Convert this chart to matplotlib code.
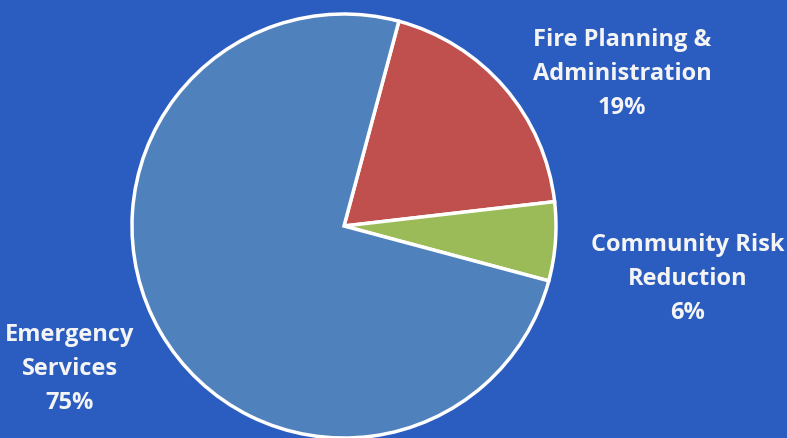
import matplotlib.pyplot as plt

# Budget split by program area
labels = ["Fire Planning &\nAdministration", "Community Risk\nReduction", "Emergency\nServices"]
shares = [19, 6, 75]
colors = ["#c0504d", "#9bbb59", "#4f81bd"]

bg = "#2b5cbf"

fig = plt.figure(figsize=(7.87, 4.39), dpi=100, facecolor=bg)
ax = fig.add_axes([0, 0, 1, 1])
ax.set_facecolor(bg)

ax.pie(shares, colors=colors, startangle=75, counterclock=False,
       center=(344, 212), radius=212,
       wedgeprops=dict(edgecolor="white", linewidth=2.5))

ax.set_xlim(0, 787)
ax.set_ylim(0, 439)
ax.set_aspect("equal")
ax.axis("off")

# label positions (x, y of text centre)
label_pos = [(622, 365), (688, 160), (70, 70)]
for lab, val, (x, y) in zip(labels, shares, label_pos):
    ax.text(x, y, f"{lab}\n{val}%", ha="center", va="center",
            color="#f4f4f4", fontsize=17, fontweight="bold",
            family="Open Sans", linespacing=1.53)

fig.savefig("out.png", dpi=100, facecolor=bg)
